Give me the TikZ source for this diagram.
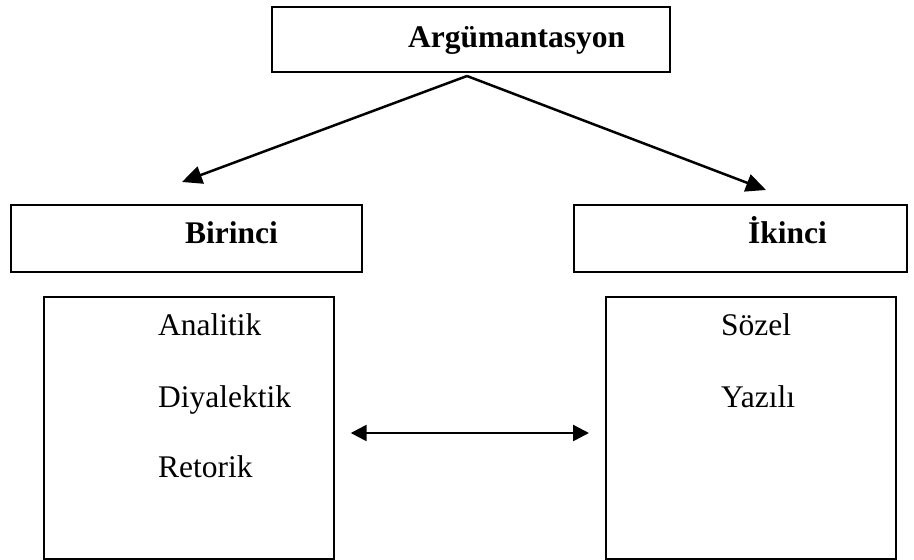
\documentclass[tikz,border=0pt]{standalone}
\usepackage{fontspec}
\setmainfont{Liberation Serif}
\usetikzlibrary{arrows.meta}
\tikzset{
  boxshape/.style={draw, line width=1.7pt, inner sep=0pt, anchor=north west},
  headtext/.style={anchor=base west, inner sep=0pt, font=\bfseries\fontsize{31.5}{36}\selectfont},
  itemtext/.style={anchor=base west, inner sep=0pt, font=\fontsize{31.5}{36}\selectfont},
  arr/.style={line width=2.5pt, -{Triangle[length=20pt,width=18pt]}},
  dblarr/.style={line width=2.5pt, {Triangle[length=16pt,width=16pt]}-{Triangle[length=16pt,width=16pt]}}
}
\begin{document}
\begin{tikzpicture}[x=1pt,y=-1pt]
\useasboundingbox (0,0) rectangle (914,560);
% boxes
\node[boxshape, minimum width=398pt, minimum height=65pt] (topbox) at (271,6) {};
\node[boxshape, minimum width=351pt, minimum height=67pt] (birbox) at (10,204) {};
\node[boxshape, minimum width=333pt, minimum height=67pt] (ikibox) at (573,204) {};
\node[boxshape, minimum width=290pt, minimum height=262pt] (leftlist) at (43,296) {};
\node[boxshape, minimum width=290pt, minimum height=262pt] (rightlist) at (605,296) {};
% texts
\node[headtext] (argt) at (408,47) {Argümantasyon};
\node[headtext] (birt) at (185,243) {Birinci};
\node[headtext] (ikit) at (748,243) {İkinci};
\node[itemtext] (ana) at (158,335) {Analitik};
\node[itemtext] (diy) at (158,407) {Diyalektik};
\node[itemtext] (ret) at (158,477) {Retorik};
\node[itemtext] (soz) at (721,335) {Sözel};
\node[itemtext] (yaz) at (721,407) {Yazılı};
% connectors
\coordinate (apex) at (467,76);
\coordinate (lefttip) at (182,182);
\coordinate (righttip) at (766,190);
\draw[arr] (apex) -- (lefttip);
\draw[arr] (apex) -- (righttip);
\coordinate (dl) at ([xshift=16pt]leftlist.east |- 0,433);
\coordinate (dr) at ([xshift=-16pt]rightlist.west |- 0,433);
\draw[dblarr] (dl) -- (dr);
\end{tikzpicture}
\end{document}
